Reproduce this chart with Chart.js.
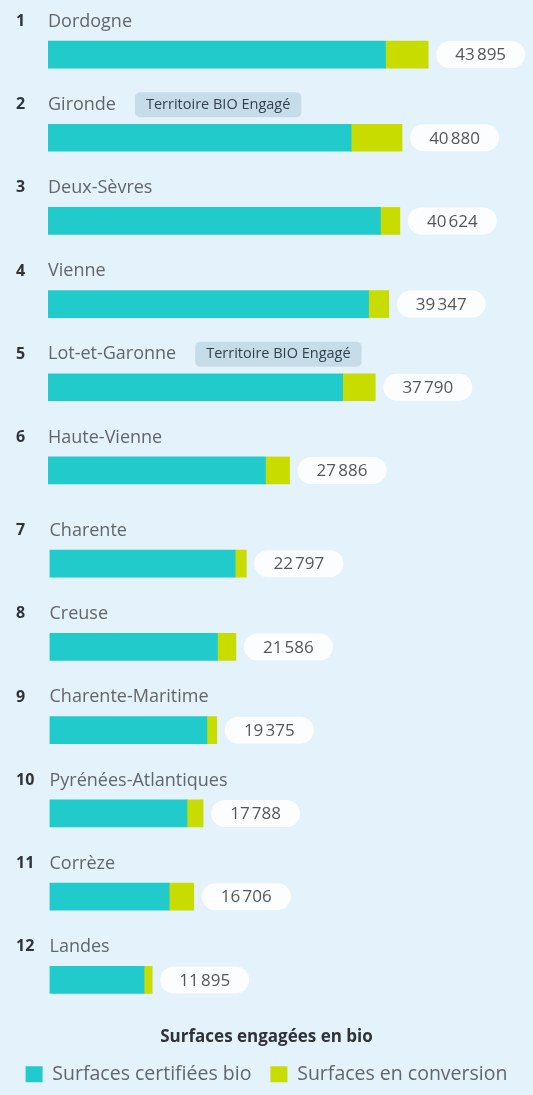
<!DOCTYPE html>
<html lang="fr">
<head>
<meta charset="utf-8">
<title>Surfaces engagées en bio</title>
<script src="https://cdn.jsdelivr.net/npm/chart.js@4.4.1/dist/chart.umd.min.js"></script>
<style>
  html, body { margin: 0; padding: 0; background: #e3f2fb; }
  body { width: 533px; height: 1095px; position: relative; overflow: hidden; }
  .block { position: absolute; left: 0; width: 533px; }
  #top { top: 0; height: 512px; }
  #bottom { top: 512px; height: 590px; }
</style>
</head>
<body>
<div class="block" id="top"><canvas id="chartTop"></canvas></div>
<div class="block" id="bottom"><canvas id="chartBottom"></canvas></div>
<script>
// Departments ranked by organic area (ha)
const departements = [
  'Dordogne', 'Gironde', 'Deux-Sèvres', 'Vienne', 'Lot-et-Garonne', 'Haute-Vienne',
  'Charente', 'Creuse', 'Charente-Maritime', 'Pyrénées-Atlantiques', 'Corrèze', 'Landes'
];
const surfacesBio = [38970, 35000, 38390, 37020, 34020, 25110, 21507, 19455, 18234, 15926, 13860, 10952];
const surfacesConversion = [4925, 5880, 2234, 2327, 3770, 2776, 1290, 2131, 1141, 1862, 2846, 943];
const totals = [43895, 40880, 40624, 39347, 37790, 27886, 22797, 21586, 19375, 17788, 16706, 11895];
const badges = ['', 'Territoire BIO Engagé', '', '', 'Territoire BIO Engagé', '', '', '', '', '', '', ''];
const xMax = 56000;

const FONT = "'Open Sans', sans-serif";
const TEAL = '#21cbcb';
const LIME = '#c8dc00';

// Rank, name and badge above each bar, total in a pill after it
const rowLabels = {
  id: 'rowLabels',
  afterDatasetsDraw(chart, args, opts) {
    const ctx = chart.ctx;
    const start = opts.offset;
    const left = chart.scales.x.getPixelForValue(0);
    const lastMeta = chart.getDatasetMeta(chart.data.datasets.length - 1);

    ctx.save();
    ctx.textBaseline = 'middle';
    lastMeta.data.forEach((bar, i) => {
      const k = start + i;
      const ly = bar.y - 33;

      ctx.textAlign = 'left';
      ctx.fillStyle = '#2f3336';
      ctx.font = `bold 16px ${FONT}`;
      ctx.fillText(String(k + 1), 16, ly);

      ctx.fillStyle = '#636669';
      ctx.font = `18px ${FONT}`;
      ctx.fillText(departements[k], left, ly);
      const nameW = ctx.measureText(departements[k]).width;

      if (badges[k]) {
        ctx.font = `14.5px ${FONT}`;
        const bw = ctx.measureText(badges[k]).width + 22;
        const bx = left + nameW + 19;
        ctx.fillStyle = '#c6dde9';
        ctx.beginPath();
        ctx.roundRect(bx, ly - 12.5, bw, 25, 5);
        ctx.fill();
        ctx.fillStyle = '#34414d';
        ctx.textAlign = 'center';
        ctx.fillText(badges[k], bx + bw / 2, ly);
      }

      const h = bar.height;
      const px = bar.x + 8;
      const pw = 89;
      ctx.fillStyle = '#fbfdfe';
      ctx.beginPath();
      ctx.roundRect(px, bar.y - h / 2, pw, h, h / 2);
      ctx.fill();
      ctx.fillStyle = '#55585b';
      ctx.font = `17px ${FONT}`;
      ctx.textAlign = 'center';
      ctx.fillText(totals[k].toLocaleString('fr-FR'), px + pw / 2, bar.y + 1);
    });
    ctx.restore();
  }
};

function buildChart(canvasId, from, to, indent, padding, showKey) {
  return new Chart(document.getElementById(canvasId), {
    type: 'bar',
    data: {
      labels: departements.slice(from, to),
      datasets: [
        { label: 'Surfaces certifiées bio', data: surfacesBio.slice(from, to), backgroundColor: TEAL, barThickness: 27 },
        { label: 'Surfaces en conversion', data: surfacesConversion.slice(from, to), backgroundColor: LIME, barThickness: 27 }
      ]
    },
    options: {
      indexAxis: 'y',
      responsive: true,
      maintainAspectRatio: false,
      animation: false,
      layout: { padding: padding },
      scales: {
        x: { stacked: true, display: false, min: 0, max: xMax },
        // invisible axis, only reserves the left indent for the labels
        y: {
          stacked: true,
          grid: { display: false },
          border: { display: false },
          ticks: { display: false },
          afterFit: scale => { scale.width = indent; }
        }
      },
      plugins: {
        tooltip: { enabled: false },
        rowLabels: { offset: from },
        title: {
          display: showKey,
          position: 'bottom',
          weight: 500,
          text: 'Surfaces engagées en bio',
          color: '#2f3336',
          font: { family: FONT, size: 17, weight: 'bold', lineHeight: 1 },
          padding: { top: 7, bottom: 0 }
        },
        legend: {
          display: showKey,
          position: 'bottom',
          weight: 1000,
          labels: {
            color: '#636669',
            font: { family: FONT, size: 19.5 },
            boxWidth: 17,
            boxHeight: 16,
            padding: 19
          }
        }
      }
    },
    plugins: [rowLabels]
  });
}

buildChart('chartTop', 0, 6, 48, { top: 13, left: 0, right: 0, bottom: 0 }, false);
buildChart('chartBottom', 6, 12, 49.5, { top: 10, left: 0, right: 0, bottom: 8 }, true);
</script>
</body>
</html>
